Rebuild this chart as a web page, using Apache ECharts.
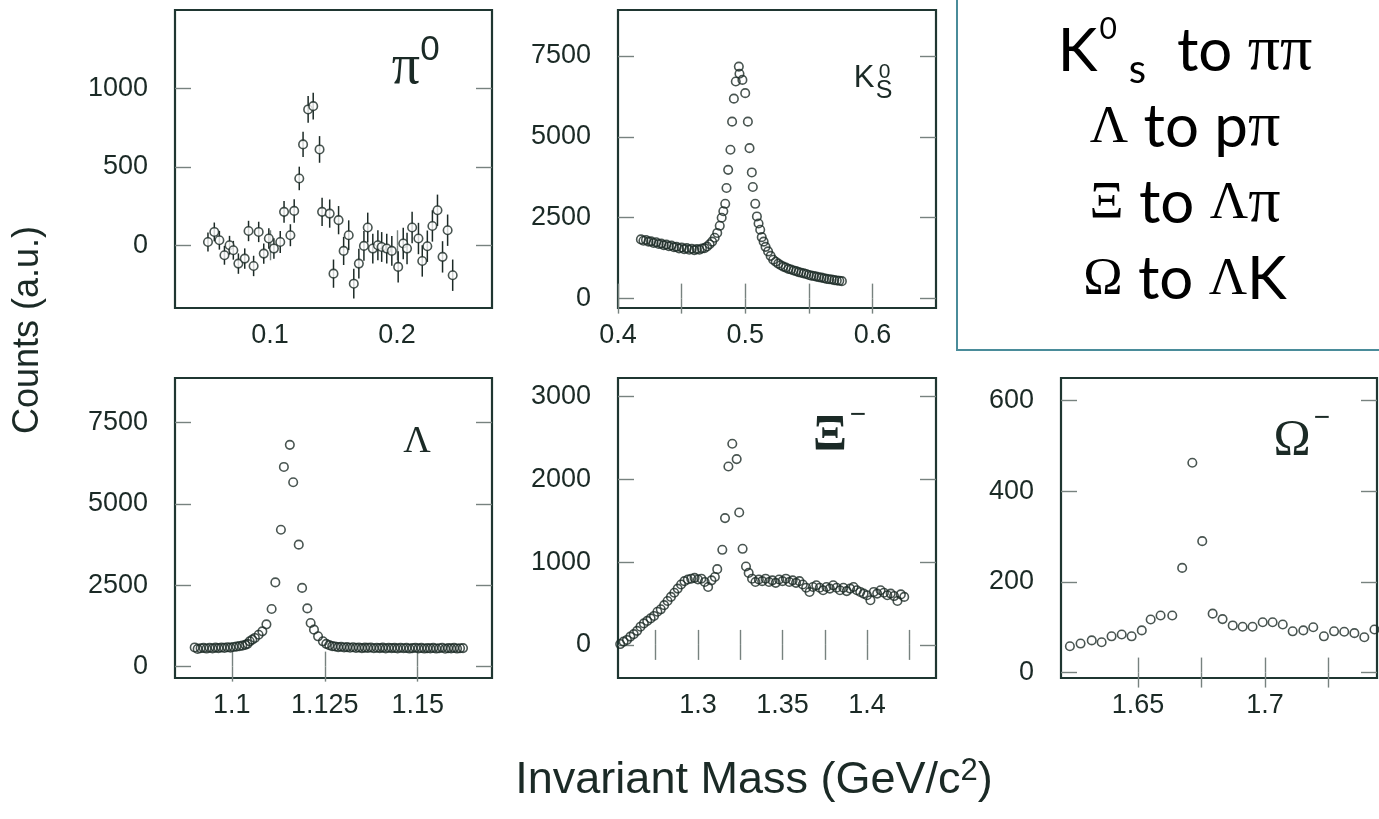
<!DOCTYPE html>
<html><head><meta charset="utf-8">
<script src="https://cdn.jsdelivr.net/npm/echarts@6/dist/echarts.min.js"></script>
<style>html,body{margin:0;padding:0;background:#fff}#c{width:1379px;height:819px}</style>
</head><body><div id="c"></div>
<script>
// ---------------- data ----------------
// pi0 panel
const piX = [0.051,0.056,0.060,0.064,0.068,0.071,0.075,0.080,0.083,0.087,0.091,0.095,0.099,0.103,0.108,0.111,0.116,0.119,0.123,0.126,0.130,0.134,0.139,0.141,0.147,0.150,0.154,0.158,0.162,0.166,0.170,0.174,0.177,0.181,0.185,0.188,0.192,0.196,0.201,0.205,0.208,0.212,0.217,0.220,0.224,0.228,0.232,0.236,0.240,0.244];
const piY = [21,85,32,-64,0,-32,-117,-85,91,-132,85,-53,43,-21,21,213,64,219,426,643,866,887,611,213,202,-181,160,-36,64,-245,-117,-4,113,-21,0,-11,-21,-36,-138,11,-21,113,43,-100,-6,123,223,-74,96,-191];
const piErr = [60,60,60,60,60,60,65,65,65,65,65,65,65,65,70,70,70,75,75,80,85,85,85,90,90,90,90,90,95,95,95,95,95,95,95,95,95,95,100,100,100,100,100,100,100,100,100,100,100,100];
// K0s panel
const kX = [0.418,0.420,0.422,0.424,0.426,0.428,0.430,0.432,0.434,0.436,0.438,0.440,0.442,0.444,0.446,0.448,0.450,0.452,0.454,0.456,0.458,0.460,0.462,0.464,0.466,0.468,0.470,0.472,0.474,0.476,0.478,0.480,0.4815,0.4828,0.4843,0.4853,0.4866,0.4884,0.4897,0.4911,0.4926,0.4950,0.4955,0.4978,0.5000,0.5021,0.5034,0.5052,0.5060,0.5079,0.5092,0.5105,0.5118,0.5130,0.5145,0.5160,0.518,0.520,0.522,0.524,0.526,0.528,0.530,0.532,0.534,0.536,0.538,0.540,0.542,0.544,0.546,0.548,0.550,0.552,0.554,0.556,0.558,0.560,0.562,0.564,0.566,0.568,0.570,0.572,0.574,0.576];
const kY = [1830,1790,1810,1760,1770,1720,1740,1690,1700,1650,1670,1620,1640,1590,1600,1550,1580,1530,1560,1510,1540,1500,1530,1510,1550,1560,1610,1680,1760,1880,2030,2250,2500,2700,2930,3420,3980,4600,5470,6180,6710,7170,6950,6760,6350,5470,4650,3900,3450,2930,2540,2320,2130,1900,1760,1600,1460,1320,1200,1140,1080,1030,990,960,920,900,870,850,820,800,780,760,730,710,700,680,660,650,630,610,600,590,570,560,550,540];
// Lambda panel
const lamX = [1.0900,1.0908,1.0916,1.0924,1.0932,1.0940,1.0948,1.0956,1.0964,1.0972,1.0980,1.0988,1.0996,1.1004,1.1012,1.1020,1.1028,1.1036,1.1042,1.1048,1.1055,1.1062,1.1072,1.1082,1.1093,1.1107,1.1117,1.1132,1.1140,1.1156,1.1165,1.1180,1.1189,1.1203,1.1212,1.1221,1.1232,1.1245,1.1254,1.1262,1.1270,1.1278,1.1286,1.1294,1.1302,1.1310,1.1318,1.1326,1.1334,1.1342,1.1350,1.1358,1.1366,1.1374,1.1382,1.1390,1.1398,1.1406,1.1414,1.1422,1.1430,1.1438,1.1446,1.1454,1.1462,1.1470,1.1478,1.1486,1.1494,1.1502,1.1510,1.1518,1.1526,1.1534,1.1542,1.1550,1.1558,1.1566,1.1574,1.1582,1.1590,1.1598,1.1606,1.1614,1.1622];
const lamY = [590,545,565,575,555,580,560,585,570,590,575,595,585,605,615,630,645,670,700,778,830,882,980,1085,1300,1773,2590,4210,6140,6820,5670,3750,2420,1790,1340,1137,932,778,700,660,630,620,600,610,590,600,580,595,575,590,570,585,575,590,565,580,570,585,560,580,570,575,560,580,565,575,555,570,580,560,575,555,570,560,575,555,565,580,550,570,560,575,555,565,570];
// Xi panel
const xiX = [1.254,1.256,1.258,1.260,1.262,1.264,1.266,1.268,1.270,1.272,1.274,1.276,1.278,1.280,1.282,1.284,1.286,1.288,1.290,1.292,1.294,1.296,1.298,1.300,1.302,1.304,1.306,1.308,1.310,1.3114,1.3144,1.3160,1.3180,1.3203,1.3229,1.3244,1.3264,1.3284,1.3300,1.332,1.334,1.336,1.338,1.340,1.342,1.344,1.346,1.348,1.350,1.352,1.354,1.356,1.358,1.360,1.362,1.364,1.366,1.368,1.370,1.372,1.374,1.376,1.378,1.380,1.382,1.384,1.386,1.388,1.390,1.392,1.394,1.396,1.398,1.400,1.402,1.404,1.406,1.408,1.410,1.412,1.414,1.416,1.418,1.420,1.422];
const xiY = [10,40,60,100,130,170,220,260,290,320,350,400,430,480,530,580,630,680,730,770,790,800,810,790,800,760,700,780,820,915,1149,1532,2156,2430,2245,1600,1161,947,870,800,760,790,770,800,760,780,750,790,770,800,760,780,750,770,730,690,640,700,720,690,660,700,680,720,690,660,690,650,680,700,660,640,620,600,540,640,620,660,630,600,620,590,530,610,580];
// Omega panel
const omX = [1.6232,1.6274,1.6318,1.6357,1.6396,1.6436,1.6475,1.6515,1.6550,1.6589,1.6635,1.6674,1.6714,1.6753,1.6794,1.6833,1.6873,1.6912,1.6951,1.6991,1.7030,1.7070,1.7109,1.7151,1.7190,1.7232,1.7272,1.7312,1.7352,1.7391,1.7431];
const omY = [58,64,71,67,80,84,80,93,117,126,126,231,463,290,130,118,104,101,101,111,111,106,91,93,100,80,91,90,87,78,95];

// tick values / labels
const piXLabels = [0.1, 0.2];
const piYLabels = [0, 500, 1000];
const kXLabels = [0.4, 0.5, 0.6];
const kXTicks = [0.4, 0.45, 0.5, 0.55, 0.6];
const kYLabels = [0, 2500, 5000, 7500];
const lamXLabels = [1.1, 1.125, 1.15];
const lamYLabels = [0, 2500, 5000, 7500];
const xiXLabels = [1.3, 1.35, 1.4];
const xiXTicks = [1.275, 1.3, 1.325, 1.35, 1.375, 1.4, 1.425];
const xiYLabels = [0, 1000, 2000, 3000];
const omXLabels = [1.65, 1.7];
const omXTicks = [1.65, 1.675, 1.7, 1.725];
const omYLabels = [0, 200, 400, 600];

// ---------------- chart ----------------
const FRAME = '#1f3631', TICK = '#77827f', TXT = '#1b2a26', MARK = '#1c2a26';
const zip = (a, b) => a.map((v, i) => [v, b[i]]);

const panels = [
  {grid:{left:175, top:10,  width:317, height:298}, xr:[0.025,0.275], yr:[-400,1500], xl:piXLabels, xt:piXLabels, yl:piYLabels},
  {grid:{left:618, top:10,  width:318, height:298}, xr:[0.4,0.65],    yr:[-290,8920], xl:kXLabels, xt:kXTicks, yl:kYLabels},
  {grid:{left:175, top:378, width:317, height:300}, xr:[1.0847,1.17], yr:[-350,8875], xl:lamXLabels, xt:lamXLabels, yl:lamYLabels},
  {grid:{left:618, top:378, width:318, height:300}, xr:[1.2527,1.4408], yr:[-400,3225], xl:xiXLabels, xt:xiXTicks, yl:xiYLabels},
  {grid:{left:1061, top:378, width:316, height:300}, xr:[1.6197,1.7441], yr:[-12,650], xl:omXLabels, xt:omXTicks, yl:omYLabels}
];

const grids = [], xAxes = [], yAxes = [];
const fmt = v => String(+(+v).toFixed(3));
panels.forEach((p, i) => {
  grids.push(Object.assign({show:true, borderColor:FRAME, borderWidth:2.2, backgroundColor:'transparent', containLabel:false}, p.grid));
  ['bottom','top'].forEach((pos, k) => {
    xAxes.push({type:'value', gridIndex:i, position:pos, min:p.xr[0], max:p.xr[1],
      axisLine:{show:false}, splitLine:{show:false},
      axisTick:{show:true, inside:true, length:15, customValues:p.xt, lineStyle:{color:TICK, width:1.4}},
      axisLabel:{show:k===0, customValues:p.xl, margin:14, fontFamily:'Liberation Sans', fontSize:27, color:TXT, formatter:fmt}});
  });
  ['left','right'].forEach((pos, k) => {
    yAxes.push({type:'value', gridIndex:i, position:pos, min:p.yr[0], max:p.yr[1],
      axisLine:{show:false}, splitLine:{show:false},
      axisTick:{show:true, inside:true, length:16, customValues:p.yl, lineStyle:{color:TICK, width:1.4}},
      axisLabel:{show:k===0, customValues:p.yl, margin:27, fontFamily:'Liberation Sans', fontSize:27, color:TXT, formatter:fmt}});
  });
});

const scatterStyle = {color:'rgba(0,0,0,0)', borderColor:MARK, borderWidth:1.6};
const mk = (i, data, fill) => ({type:'scatter', xAxisIndex:2*i, yAxisIndex:2*i, data, symbol:'circle', symbolSize:8.5,
  itemStyle: fill ? Object.assign({}, scatterStyle, {color:fill}) : scatterStyle, silent:true, z:3});

const series = [
  {type:'custom', xAxisIndex:0, yAxisIndex:0, silent:true, z:2,
   data: piX.map((x, i) => [x, piY[i], piErr[i]]), encode:{x:0, y:1},
   renderItem:(params, api) => {
     const x = api.value(0), y = api.value(1), e = api.value(2);
     const a = api.coord([x, y - e]), b = api.coord([x, y + e]);
     return {type:'line', shape:{x1:a[0], y1:a[1], x2:b[0], y2:b[1]}, style:{stroke:MARK, lineWidth:1.5}};
   }},
  mk(0, zip(piX, piY), '#fff'),
  mk(1, zip(kX, kY)),
  mk(2, zip(lamX, lamY)),
  mk(3, zip(xiX, xiY)),
  mk(4, zip(omX, omY))
];

const T = (text, x, y, size, family, extra) => Object.assign({type:'text', x, y, silent:true,
  style:Object.assign({text, fontSize:size, fontFamily:family, fill:TXT, align:'center', verticalAlign:'middle', textAlign:'center', textVerticalAlign:'middle'}, extra || {})});

const graphic = [
  {type:'rect', shape:{x:957, y:-10, width:450, height:360}, style:{fill:'none', stroke:'#4a8c9a', lineWidth:2}, silent:true},
  {type:'text', x:1185, y:14, silent:true, style:{
    text:'{k|K}{sup|0}{sub|s}{t|  to }{g|ππ}\n{G|Λ}{t| to p}{g|π}\n{G|Ξ}{t| to }{G|Λ}{g|π}\n{G|Ω}{t| to }{G|Λ}{t|K}',
    align:'center', verticalAlign:'top', textAlign:'center', textVerticalAlign:'top', fill:'#000',
    rich:{
      t:{fontFamily:'Lato', fontSize:60, lineHeight:76, fill:'#000'},
      k:{fontFamily:'Lato', fontSize:60, lineHeight:76, fill:'#000'},
      G:{fontFamily:'Liberation Serif', fontSize:53, lineHeight:76, fill:'#000'},
      g:{fontFamily:'Liberation Serif', fontSize:64, lineHeight:76, fill:'#000'},
      sup:{fontFamily:'Lato', fontSize:30, lineHeight:49, verticalAlign:'top', padding:[0,12,0,2], fill:'#000'},
      sub:{fontFamily:'Lato', fontSize:40, lineHeight:36, verticalAlign:'bottom', fill:'#000'}
    }}},
  // axis titles
  Object.assign(T('Counts (a.u.)', 28, 330, 36, 'Liberation Sans'), {rotation:Math.PI/2}),
  {type:'text', x:754, y:781, silent:true, style:{
    text:'{a|Invariant Mass (GeV/c}{s|2}{a|)}', align:'center', verticalAlign:'middle', textAlign:'center', textVerticalAlign:'middle',
    rich:{a:{fontFamily:'Liberation Sans', fontSize:45, lineHeight:50, fill:TXT}, s:{fontFamily:'Liberation Sans', fontSize:31, lineHeight:10, verticalAlign:'top', fill:TXT}}}},
  // panel labels
  T('π', 406, 68, 56, 'Liberation Serif'),
  T('0', 430, 50, 35, 'Liberation Sans'),
  T('K', 864, 78, 31, 'Liberation Sans'),
  T('0', 884.5, 72.5, 21, 'Liberation Sans'),
  T('S', 884, 91, 25, 'Liberation Sans'),
  T('Λ', 417, 442, 38, 'Liberation Serif'),
  T('Ξ', 830, 436, 50, 'Liberation Serif', {fontWeight:'bold'}),
  T('−', 858, 415, 28, 'Liberation Sans'),
  T('Ω', 1292, 441, 50, 'Liberation Serif'),
  T('−', 1322, 418, 28, 'Liberation Sans')
];

const chart = echarts.init(document.getElementById('c'), null, {renderer:'canvas'});
chart.setOption({animation:false, backgroundColor:'#fff', grid:grids, xAxis:xAxes, yAxis:yAxes, series, graphic});
</script></body></html>
